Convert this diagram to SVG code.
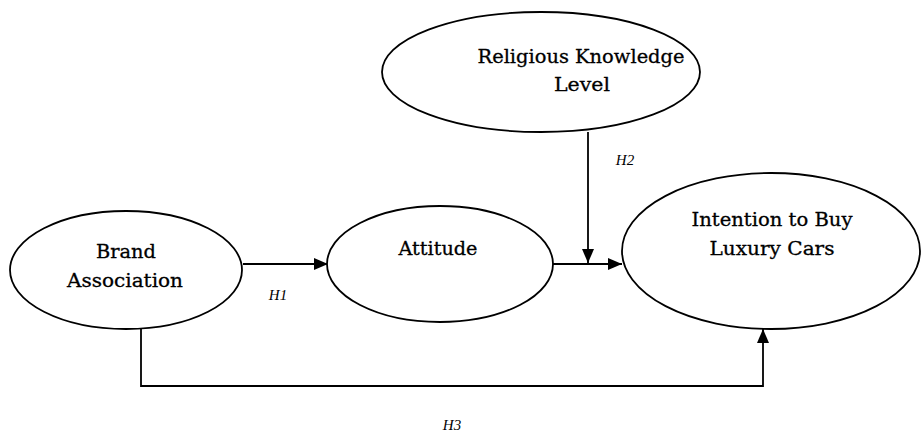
<svg xmlns="http://www.w3.org/2000/svg" width="921" height="432" viewBox="0 0 921 432">
<style>
.node ellipse{fill:#fff;stroke:#000;stroke-width:1.8}
.node text{font-family:"DejaVu Serif","Liberation Serif",serif;font-size:19px;fill:#000;text-anchor:middle;stroke:#000;stroke-width:0.3}
.lbl{font-family:"Liberation Serif",serif;font-style:italic;font-size:15px;fill:#000;text-anchor:middle}
.edge{fill:none;stroke:#000;stroke-width:1.8}
</style>
<defs>
<marker id="ah" viewBox="0 0 14 12" refX="14" refY="6" markerWidth="14" markerHeight="12" markerUnits="userSpaceOnUse" orient="auto">
<path d="M0,0 L14,6 L0,12 Z" fill="#000"/>
</marker>
</defs>
<rect width="921" height="432" fill="#fff"/>
<g id="connectors">
<line class="edge" x1="243" y1="264" x2="328" y2="264" marker-end="url(#ah)"/>
<line class="edge" x1="553" y1="264" x2="622" y2="264" marker-end="url(#ah)"/>
<line class="edge" x1="588" y1="132" x2="588" y2="263" marker-end="url(#ah)"/>
<path class="edge" d="M141,328 V386 H763 V329" marker-end="url(#ah)"/>
</g>
<g id="brand" class="node">
<ellipse cx="126" cy="270" rx="116" ry="59"/>
<text x="126" y="258" textLength="60" lengthAdjust="spacingAndGlyphs">Brand</text>
<text x="125" y="287" textLength="116" lengthAdjust="spacingAndGlyphs">Association</text>
</g>
<g id="attitude" class="node">
<ellipse cx="440" cy="264" rx="113" ry="58"/>
<text x="438" y="255" textLength="79" lengthAdjust="spacingAndGlyphs">Attitude</text>
</g>
<g id="religious" class="node">
<ellipse cx="541" cy="72" rx="159" ry="60"/>
<text x="581" y="63" textLength="207" lengthAdjust="spacingAndGlyphs">Religious Knowledge</text>
<text x="582" y="91" textLength="56" lengthAdjust="spacingAndGlyphs">Level</text>
</g>
<g id="intention" class="node">
<ellipse cx="771" cy="251" rx="149" ry="78"/>
<text x="772" y="226" textLength="161" lengthAdjust="spacingAndGlyphs">Intention to Buy</text>
<text x="772" y="255" textLength="125" lengthAdjust="spacingAndGlyphs">Luxury Cars</text>
</g>
<g id="labels">
<text class="lbl" x="278" y="300">H1</text>
<text class="lbl" x="625" y="165">H2</text>
<text class="lbl" x="452" y="430">H3</text>
</g>
</svg>
